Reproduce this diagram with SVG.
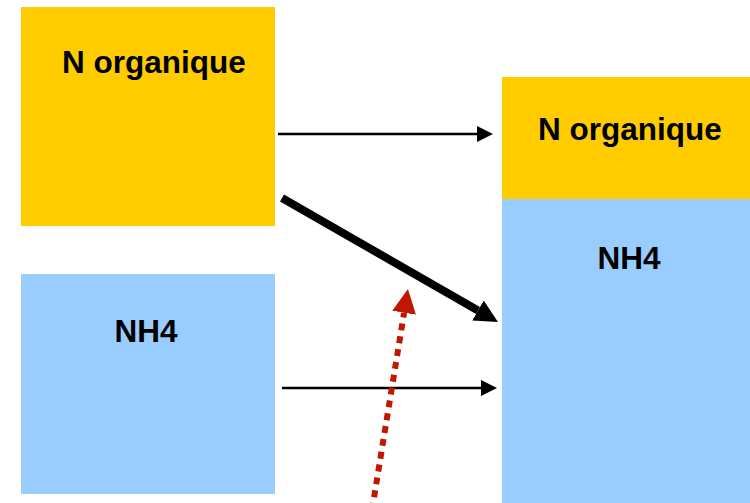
<svg xmlns="http://www.w3.org/2000/svg" width="750" height="503" viewBox="0 0 750 503">
<style>
.org{fill:#FFCC00}
.nh4{fill:#99CCFF}
.lbl{font-family:"Liberation Sans",Arial,sans-serif;font-weight:bold;font-size:31.5px;fill:#000;text-anchor:middle}
.thin{stroke:#000;stroke-width:2.5;fill:none}
.thick{stroke:#000;stroke-width:8;fill:none}
.red{stroke:#C01800;stroke-width:6;stroke-dasharray:7 6;fill:none}
</style>
<defs>
<marker id="hThin" viewBox="0 0 10 10" refX="0" refY="5" markerUnits="userSpaceOnUse" markerWidth="16" markerHeight="16" orient="auto"><path d="M0,0 L10,5 L0,10 Z" fill="#000"/></marker>
<marker id="hThick" viewBox="0 0 10 10" refX="0" refY="5" markerUnits="userSpaceOnUse" markerWidth="23" markerHeight="24" orient="auto"><path d="M0,0 L10,5 L0,10 Z" fill="#000"/></marker>
<marker id="hRed" viewBox="0 0 10 10" refX="0" refY="5" markerUnits="userSpaceOnUse" markerWidth="24" markerHeight="24" orient="auto"><path d="M0,0 L10,5 L0,10 Z" fill="#C01800"/></marker>
</defs>
<g id="left-norg"><rect class="org" x="21" y="7" width="254" height="219"/><text class="lbl" x="154" y="73">N organique</text></g>
<g id="left-nh4"><rect class="nh4" x="21" y="274" width="254" height="220"/><text class="lbl" x="146" y="342">NH4</text></g>
<g id="right-nh4"><rect class="nh4" x="502" y="199" width="248" height="304"/><text class="lbl" x="629" y="269">NH4</text></g>
<g id="right-norg"><rect class="org" x="502" y="77" width="248" height="122"/><text class="lbl" x="630" y="140">N organique</text></g>
<g id="connectors">
<line class="thin" x1="278" y1="134" x2="477" y2="134" marker-end="url(#hThin)"/>
<line class="thin" x1="282" y1="388" x2="481" y2="388" marker-end="url(#hThin)"/>
<line class="thick" x1="282" y1="198" x2="478" y2="310.5" marker-end="url(#hThick)"/>
<line class="red" x1="372" y1="510" x2="404.1" y2="312.7" marker-end="url(#hRed)"/>
</g>
</svg>
